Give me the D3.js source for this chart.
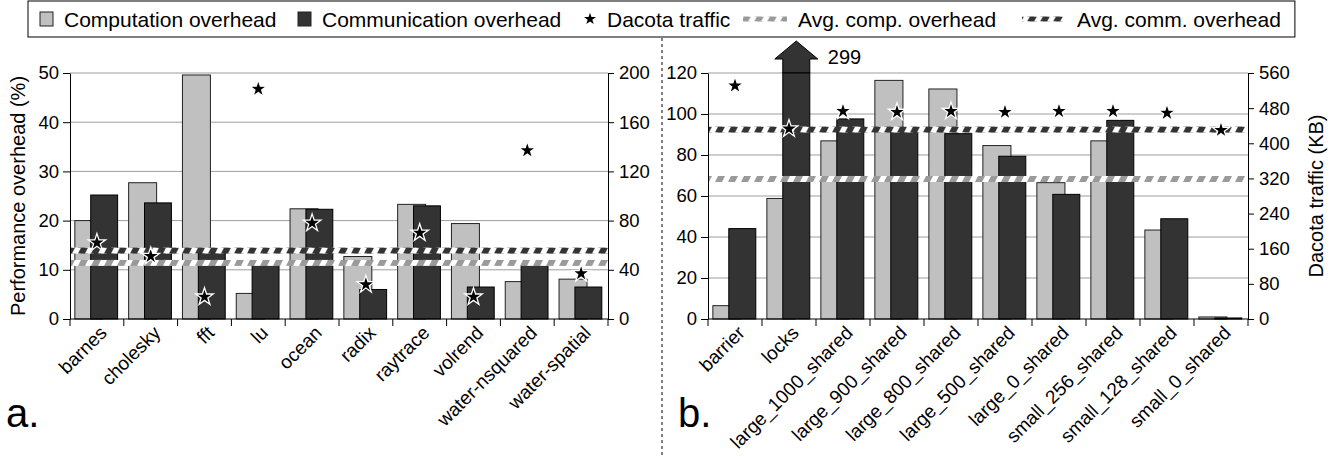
<!DOCTYPE html>
<html>
<head>
<meta charset="utf-8">
<script src="https://cdn.jsdelivr.net/npm/d3@7"></script>
<style>
  body { margin: 0; background: #fff; }
  svg { display: block; font-family: "Liberation Sans", Arial, Helvetica, sans-serif; }
</style>
</head>
<body>
<div id="chart"></div>
<script>
// ---- data ----
var leftCats = ["barnes", "cholesky", "fft", "lu", "ocean", "radix", "raytrace", "volrend", "water-nsquared", "water-spatial"];
var leftComp = [20.0, 27.7, 49.6, 5.2, 22.4, 12.7, 23.3, 19.4, 7.6, 8.1];
var leftComm = [25.2, 23.6, 13.4, 11.0, 22.3, 6.0, 23.0, 6.5, 11.8, 6.5];
var leftTraffic = [62, 51, 18, 187, 78, 28, 70, 18, 137, 37];
var leftAvg = { comp: 11.4, comm: 13.9 };
var leftTicks = [0, 10, 20, 30, 40, 50];
var leftTicksKB = [0, 40, 80, 120, 160, 200];

var rightCats = ["barrier", "locks", "large_1000_shared", "large_900_shared", "large_800_shared", "large_500_shared", "large_0_shared", "small_256_shared", "small_128_shared", "small_0_shared"];
var rightComp = [6.5, 58.8, 86.9, 116.4, 112.2, 84.6, 66.5, 86.9, 43.4, 1.0];
var rightComm = [44.1, 299, 97.6, 91.5, 90.4, 79.4, 60.8, 96.9, 48.9, 0.5];
var rightTraffic = [531, 433, 473, 471, 473, 471, 473, 473, 469, 430];
var rightAvg = { comp: 68.3, comm: 92.4 };
var rightTicks = [0, 20, 40, 60, 80, 100, 120];
var rightTicksKB = [0, 80, 160, 240, 320, 400, 480, 560];

var legendLabels = ["Computation overhead", "Communication overhead", "Dacota traffic", "Avg. comp. overhead", "Avg. comm. overhead"];

var GRAY = "#c0c0c0", DARK = "#333333", GRID = "#9d9d9d", HGRAY = "#9a9a9a";
var W = 1337, H = 456;
var plotTop = 73, plotBottom = 319;

var svg = d3.select("#chart").append("svg")
    .attr("width", W)
    .attr("height", H);
var defs = svg.append("defs");

// diagonal dashed pattern used for the average lines
var patCount = 0;
function hatch(color, y0, h) {
    var id = "hatch" + (patCount++);
    var p = defs.append("pattern")
        .attr("id", id)
        .attr("patternUnits", "userSpaceOnUse")
        .attr("x", 0).attr("y", y0)
        .attr("width", 13).attr("height", h);
    p.append("rect").attr("width", 13).attr("height", h).attr("fill", "#fff");
    p.append("polygon")
        .attr("points", "0," + h + " 7," + h + " 10,0 3,0")
        .attr("fill", color);
    return "url(#" + id + ")";
}

var star = d3.symbol().type(d3.symbolStar);

function panel(o) {
    var g = svg.append("g");
    var x = d3.scaleBand().domain(o.cats).range([o.x0, o.x1]);
    var y = d3.scaleLinear().domain([0, o.ticks[o.ticks.length - 1]]).range([plotBottom, plotTop]);
    var y2 = d3.scaleLinear().domain([0, o.ticksKB[o.ticksKB.length - 1]]).range([plotBottom, plotTop]);
    var bw = x.bandwidth();
    var yMax = y.domain()[1];

    // gridlines
    g.append("g").selectAll("line")
        .data(o.ticks.filter(function (d) { return d > 0; }))
        .enter().append("line")
        .attr("x1", o.x0).attr("x2", o.x1)
        .attr("y1", function (d) { return y(d); })
        .attr("y2", function (d) { return y(d); })
        .attr("stroke", GRID).attr("stroke-width", 1);

    var rows = o.cats.map(function (c, i) {
        return { cat: c, comp: o.comp[i], comm: o.comm[i], kb: o.traffic[i] };
    });

    // arrows for values above the axis max (drawn under the bar so its top edge shows)
    rows.filter(function (d) { return d.comm > yMax; }).forEach(function (d) {
        var bx = x(d.cat) + 0.385 * bw, bwid = 0.5 * bw, t = y(yMax);
        var pts = [[bx, t], [bx, t - 14], [bx - 8, t - 14], [bx + bwid / 2, t - 32],
                   [bx + bwid + 8, t - 14], [bx + bwid, t - 14], [bx + bwid, t]];
        g.append("polygon")
            .attr("points", pts.map(function (p) { return p.join(","); }).join(" "))
            .attr("fill", DARK).attr("stroke", "#000").attr("stroke-width", 1);
        g.append("text")
            .attr("x", bx + bwid + 18).attr("y", t - 9)
            .attr("font-size", 20)
            .text(d.comm);
    });

    // bars
    g.append("g").selectAll("rect")
        .data(rows)
        .enter().append("rect")
        .attr("x", function (d) { return x(d.cat) + 0.09 * bw; })
        .attr("width", 0.52 * bw)
        .attr("y", function (d) { return y(Math.min(d.comp, yMax)); })
        .attr("height", function (d) { return plotBottom - y(Math.min(d.comp, yMax)); })
        .attr("fill", GRAY).attr("stroke", "#222").attr("stroke-width", 1);
    g.append("g").selectAll("rect")
        .data(rows)
        .enter().append("rect")
        .attr("x", function (d) { return x(d.cat) + 0.385 * bw; })
        .attr("width", 0.5 * bw)
        .attr("y", function (d) { return y(Math.min(d.comm, yMax)); })
        .attr("height", function (d) { return plotBottom - y(Math.min(d.comm, yMax)); })
        .attr("fill", DARK).attr("stroke", "#000").attr("stroke-width", 1);

    // average bands
    [["comm", DARK], ["comp", HGRAY]].forEach(function (a) {
        var cy = y(o.avg[a[0]]), h = 6;
        g.append("rect")
            .attr("x", o.x0).attr("width", o.x1 - o.x0)
            .attr("y", cy - h / 2).attr("height", h)
            .attr("fill", hatch(a[1], cy - h / 2, h));
    });

    // traffic stars
    g.append("g").selectAll("path")
        .data(rows)
        .enter().append("path")
        .attr("d", star.size(95))
        .attr("transform", function (d) {
            return "translate(" + (x(d.cat) + bw / 2) + "," + y2(d.kb) + ")";
        })
        .attr("fill", "#000").attr("stroke", "#fff").attr("stroke-width", 1.3);

    // axes
    var ax = g.append("g")
        .attr("transform", "translate(" + o.x0 + ",0)")
        .call(d3.axisLeft(y).tickValues(o.ticks).tickSize(7).tickSizeOuter(0).tickPadding(4));
    var ax2 = g.append("g")
        .attr("transform", "translate(" + o.x1 + ",0)")
        .call(d3.axisRight(y2).tickValues(o.ticksKB).tickSize(6).tickSizeOuter(0).tickPadding(5));
    [ax, ax2].forEach(function (a) {
        a.selectAll("text").attr("font-size", 18.5).attr("fill", "#000")
            .attr("font-family", "Liberation Sans, Arial, sans-serif");
        a.selectAll("line").attr("stroke", "#000");
        a.select(".domain").attr("stroke", "#000");
    });

    // x axis with ticks at category boundaries
    g.append("line")
        .attr("x1", o.x0).attr("x2", o.x1)
        .attr("y1", plotBottom).attr("y2", plotBottom)
        .attr("stroke", "#000");
    g.append("g").selectAll("line")
        .data(o.cats.map(function (c) { return x(c); }).concat([o.x1]))
        .enter().append("line")
        .attr("x1", function (d) { return d; }).attr("x2", function (d) { return d; })
        .attr("y1", plotBottom).attr("y2", plotBottom + 7)
        .attr("stroke", "#000");
    g.append("g").selectAll("text")
        .data(o.cats)
        .enter().append("text")
        .attr("transform", function (d) {
            return "translate(" + (x(d) + bw / 2 + 11) + "," + (plotBottom + 15) + ") rotate(-45)";
        })
        .attr("text-anchor", "end")
        .attr("font-size", 19)
        .text(function (d) { return d; });

    // axis titles
    svg.append("text")
        .attr("transform", "translate(" + o.title.x + "," + ((plotTop + plotBottom) / 2) + ") rotate(-90)")
        .attr("text-anchor", "middle")
        .attr("font-size", 20)
        .text(o.title.text);
    svg.append("text")
        .attr("x", o.tag.x).attr("y", o.tag.y)
        .attr("font-size", 40)
        .text(o.tag.text);
}

panel({
    cats: leftCats, comp: leftComp, comm: leftComm, traffic: leftTraffic, avg: leftAvg,
    ticks: leftTicks, ticksKB: leftTicksKB, x0: 70, x1: 608,
    title: { x: 25, text: "Performance overhead (%)" },
    tag: { x: 6, y: 427, text: "a." }
});
panel({
    cats: rightCats, comp: rightComp, comm: rightComm, traffic: rightTraffic, avg: rightAvg,
    ticks: rightTicks, ticksKB: rightTicksKB, x0: 708, x1: 1248,
    title: { x: 1323, text: "Dacota traffic (KB)" },
    tag: { x: 678, y: 427, text: "b." }
});

// divider between the two panels
svg.append("line")
    .attr("x1", 662).attr("x2", 662)
    .attr("y1", 38).attr("y2", H)
    .attr("stroke", "#000").attr("stroke-dasharray", "3,3");

// legend
var leg = svg.append("g");
var ly = 19;
var legKeyX = [40, 298, 584, 743, 1022];
var legKeys = ["gray", "dark", "star", "hcomp", "hcomm"];
var legEnd = 0;
legKeys.forEach(function (k, i) {
    var lx = legKeyX[i], sw;
    if (k === "gray" || k === "dark") {
        leg.append("rect").attr("x", lx).attr("y", ly - 7).attr("width", 13).attr("height", 14)
            .attr("fill", k === "gray" ? GRAY : DARK).attr("stroke", "#222");
        sw = 13;
    } else if (k === "star") {
        leg.append("path").attr("d", star.size(45)).attr("transform", "translate(" + (lx + 6) + "," + ly + ")")
            .attr("fill", "#000");
        sw = 12;
    } else {
        leg.append("rect").attr("x", lx).attr("y", ly - 2.5).attr("width", 44).attr("height", 5)
            .attr("fill", hatch(k === "hcomp" ? HGRAY : DARK, ly - 2.5, 5));
        sw = 44;
    }
    var t = leg.append("text").attr("x", lx + sw + 11).attr("y", ly + 7.5)
        .attr("font-size", 21).text(legendLabels[i]);
    legEnd = lx + sw + 11 + t.node().getComputedTextLength();
});
leg.insert("rect", ":first-child")
    .attr("x", 28).attr("y", 1).attr("width", legEnd + 14 - 28).attr("height", 36)
    .attr("fill", "#fff").attr("stroke", "#000");
</script>
</body>
</html>
